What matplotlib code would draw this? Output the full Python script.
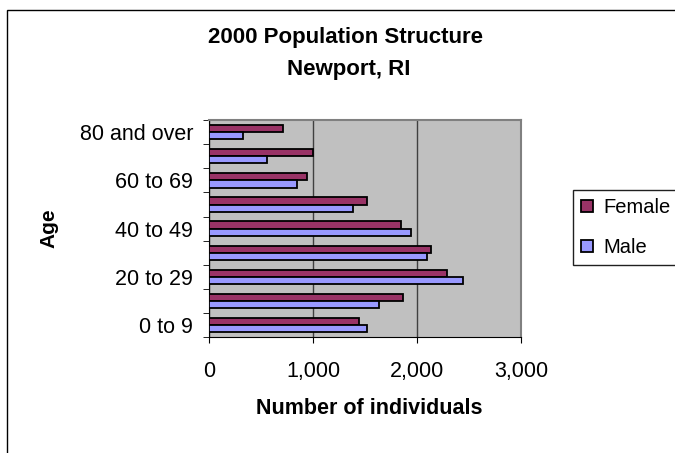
import matplotlib.pyplot as plt
import numpy as np
from matplotlib.patches import Rectangle

plt.rcParams['font.family'] = ['Liberation Sans', 'DejaVu Sans']

ages = ['0 to 9', '10 to 19', '20 to 29', '30 to 39', '40 to 49',
        '50 to 59', '60 to 69', '70 to 79', '80 and over']
female = [1442, 1865, 2288, 2135, 1846, 1519, 942, 1003, 714]
male = [1519, 1635, 2445, 2096, 1942, 1382, 846, 558, 324]
x_ticks = [0, 1000, 2000, 3000]

W, H = 675, 453
fig = plt.figure(figsize=(6.75, 4.53), dpi=100)
ax = fig.add_axes([209 / W, 1 - 337.3 / H, 312 / W, 217.3 / H])

y = np.arange(len(ages))
h = 0.3
ax.barh(y + h / 2, female, height=h, color='#993366', edgecolor='black', linewidth=1.3,
        label='Female', zorder=3)
ax.barh(y - h / 2, male, height=h, color='#9999FF', edgecolor='black', linewidth=1.3,
        label='Male', zorder=3)

ax.set_facecolor('#C0C0C0')
ax.set_xlim(0, 3000)
ax.set_ylim(-0.5, len(ages) - 0.5)
ax.set_xticks(x_ticks)
ax.set_xticklabels(['{:,}'.format(v) for v in x_ticks], fontsize=15.5)
ax.set_yticks(y[::2])
ax.set_yticklabels(ages[::2], fontsize=15.5)
ax.set_yticks(np.arange(-0.5, len(ages), 1), minor=True)
ax.tick_params(axis='y', which='major', length=0, pad=11.5)
ax.tick_params(axis='y', which='minor', length=4.3, direction='out')
ax.tick_params(axis='x', length=4.3, direction='out', pad=12.5)
ax.grid(axis='x', color='#404040', linewidth=1, zorder=1)

for side in ['top', 'right']:
    ax.spines[side].set_color('#808080')
    ax.spines[side].set_linewidth(1.5)
for side in ['left', 'bottom']:
    ax.spines[side].set_color('black')

fig.text(369 / W, 1 - 408 / H, 'Number of individuals', fontsize=15.5, fontweight='bold',
         ha='center', va='center')
fig.text(49 / W, 1 - 228 / H, 'Age', rotation=90, fontsize=15, fontweight='bold',
         ha='center', va='center')
fig.text(345.5 / W, 1 - 37 / H, '2000 Population Structure', fontsize=16,
         fontweight='bold', ha='center', va='center')
fig.text(349 / W, 1 - 69 / H, 'Newport, RI', fontsize=16,
         fontweight='bold', ha='center', va='center')

leg = fig.legend(loc='upper left', bbox_to_anchor=(573 / W, 1 - 267 / H, 0.2, 77 / H),
                 mode='expand', borderaxespad=0, fontsize=14.5, fancybox=False,
                 edgecolor='#202020', framealpha=1, handlelength=0.6, handleheight=0.6,
                 handletextpad=0.5, labelspacing=1.05, borderpad=0.4)
leg.get_frame().set_linewidth(1)

fig.patches.append(Rectangle((7 / W, -0.1), 1.5, 1.1 - 10 / H, transform=fig.transFigure,
                             fill=False, edgecolor='black', linewidth=1))

fig.savefig('out.png', dpi=100)
